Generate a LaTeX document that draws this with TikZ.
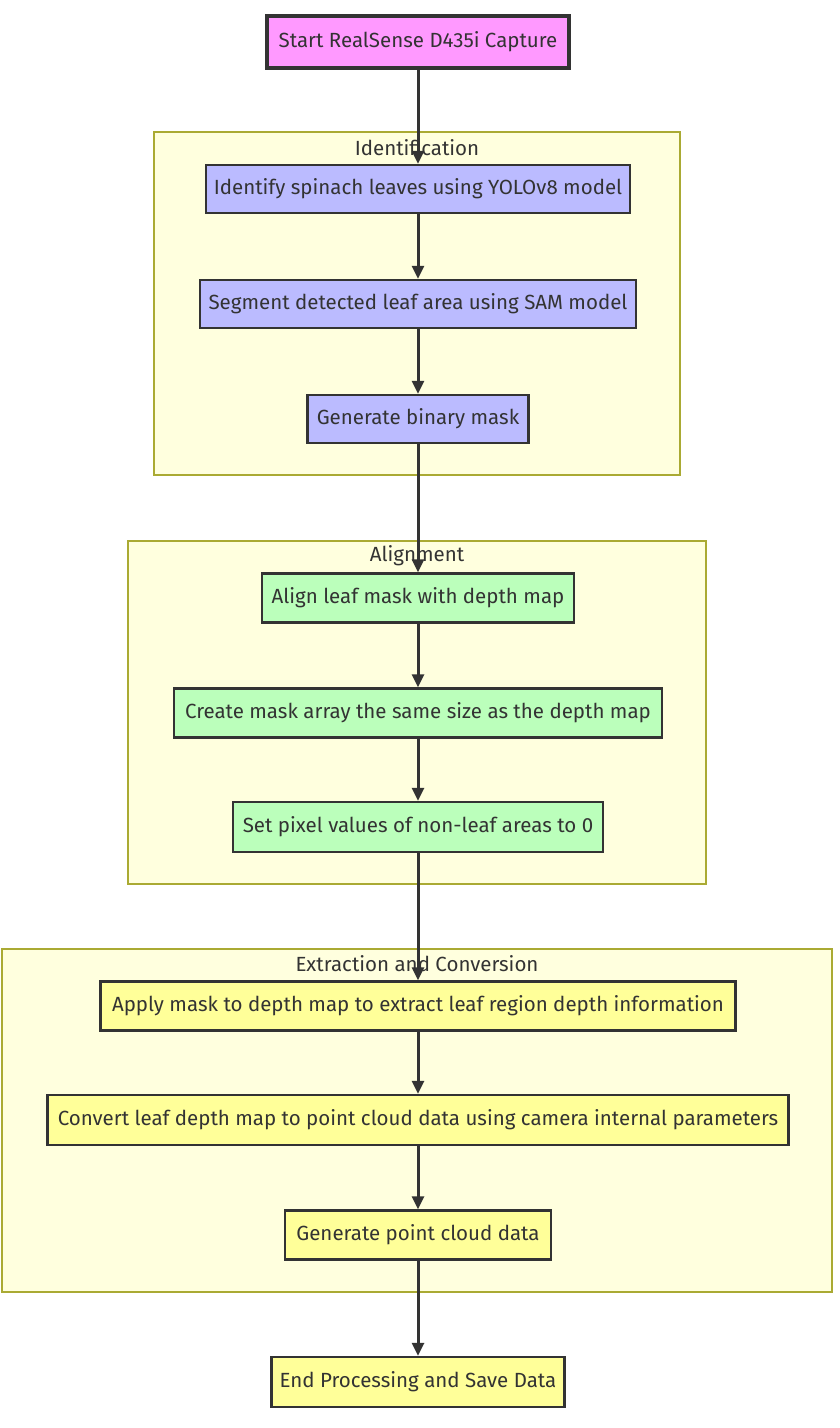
\documentclass[tikz,border=0pt]{standalone}
\usepackage{fontspec}
\setmainfont{Fira Sans}
\usetikzlibrary{arrows.meta}
\definecolor{txt}{HTML}{333333}
\definecolor{pinkf}{HTML}{FF99FF}
\definecolor{bluef}{HTML}{BBBBFF}
\definecolor{greenf}{HTML}{BBFFBB}
\definecolor{yellowf}{HTML}{FFFF99}
\definecolor{clusf}{HTML}{FFFFDE}
\definecolor{clusd}{HTML}{AAAA33}
\tikzset{
  box/.style={draw=txt, line width=2.4pt, text=txt, inner sep=0pt, font=\fontsize{20.5}{24}\selectfont},
  startbox/.style={box, fill=pinkf, line width=4.5pt},
  idbox/.style={box, fill=bluef},
  albox/.style={box, fill=greenf},
  exbox/.style={box, fill=yellowf},
  clus/.style={draw=clusd, fill=clusf, line width=1.3pt},
  cluslabel/.style={text=txt, inner sep=0pt, font=\fontsize{20.5}{24}\selectfont},
  flow/.style={draw=txt, line width=3pt, -{Triangle[length=13pt,width=12pt]}}
}
\begin{document}
\begin{tikzpicture}[x=1pt,y=-1pt]
\useasboundingbox (0,0) rectangle (840,1428);
\fill[white] (0,0) rectangle (840,1428);
% clusters
\draw[clus] (154,132) rectangle (680,475);
\node[cluslabel] (lid) at (417,148) {Identification};
\draw[clus] (128,541) rectangle (706,884);
\node[cluslabel] (lal) at (417,556) {Alignment};
\draw[clus] (2,949) rectangle (832,1292);
\node[cluslabel] (lex) at (417,964) {Extraction and Conversion};
% nodes
\node[startbox, minimum width=302pt, minimum height=52pt] (s) at (418,42) {Start RealSense D435i Capture};
\node[idbox, minimum width=424pt, minimum height=48pt] (n1) at (418,189) {Identify spinach leaves using YOLOv8 model};
\node[idbox, minimum width=436pt, minimum height=48pt] (n2) at (418,304) {Segment detected leaf area using SAM model};
\node[idbox, minimum width=221pt, minimum height=48pt] (n3) at (418,419) {Generate binary mask};
\node[albox, minimum width=312pt, minimum height=49pt] (a1) at (418,598) {Align leaf mask with depth map};
\node[albox, minimum width=488pt, minimum height=49pt] (a2) at (418,713) {Create mask array the same size as the depth map};
\node[albox, minimum width=370pt, minimum height=50pt] (a3) at (418,827) {Set pixel values of non-leaf areas to 0};
\node[exbox, minimum width=635pt, minimum height=49pt] (e1) at (418,1006) {Apply mask to depth map to extract leaf region depth information};
\node[exbox, minimum width=741pt, minimum height=50pt] (e2) at (418,1120) {Convert leaf depth map to point cloud data using camera internal parameters};
\node[exbox, minimum width=266pt, minimum height=49pt] (e3) at (418,1235) {Generate point cloud data};
\node[exbox, minimum width=293pt, minimum height=50pt] (en) at (418,1382) {End Processing and Save Data};
% arrows
\draw[flow] (s) -- (n1);
\draw[flow] (n1) -- (n2);
\draw[flow] (n2) -- (n3);
\draw[flow] (n3) -- (a1);
\draw[flow] (a1) -- (a2);
\draw[flow] (a2) -- (a3);
\draw[flow] (a3) -- (e1);
\draw[flow] (e1) -- (e2);
\draw[flow] (e2) -- (e3);
\draw[flow] (e3) -- (en);
\end{tikzpicture}
\end{document}
